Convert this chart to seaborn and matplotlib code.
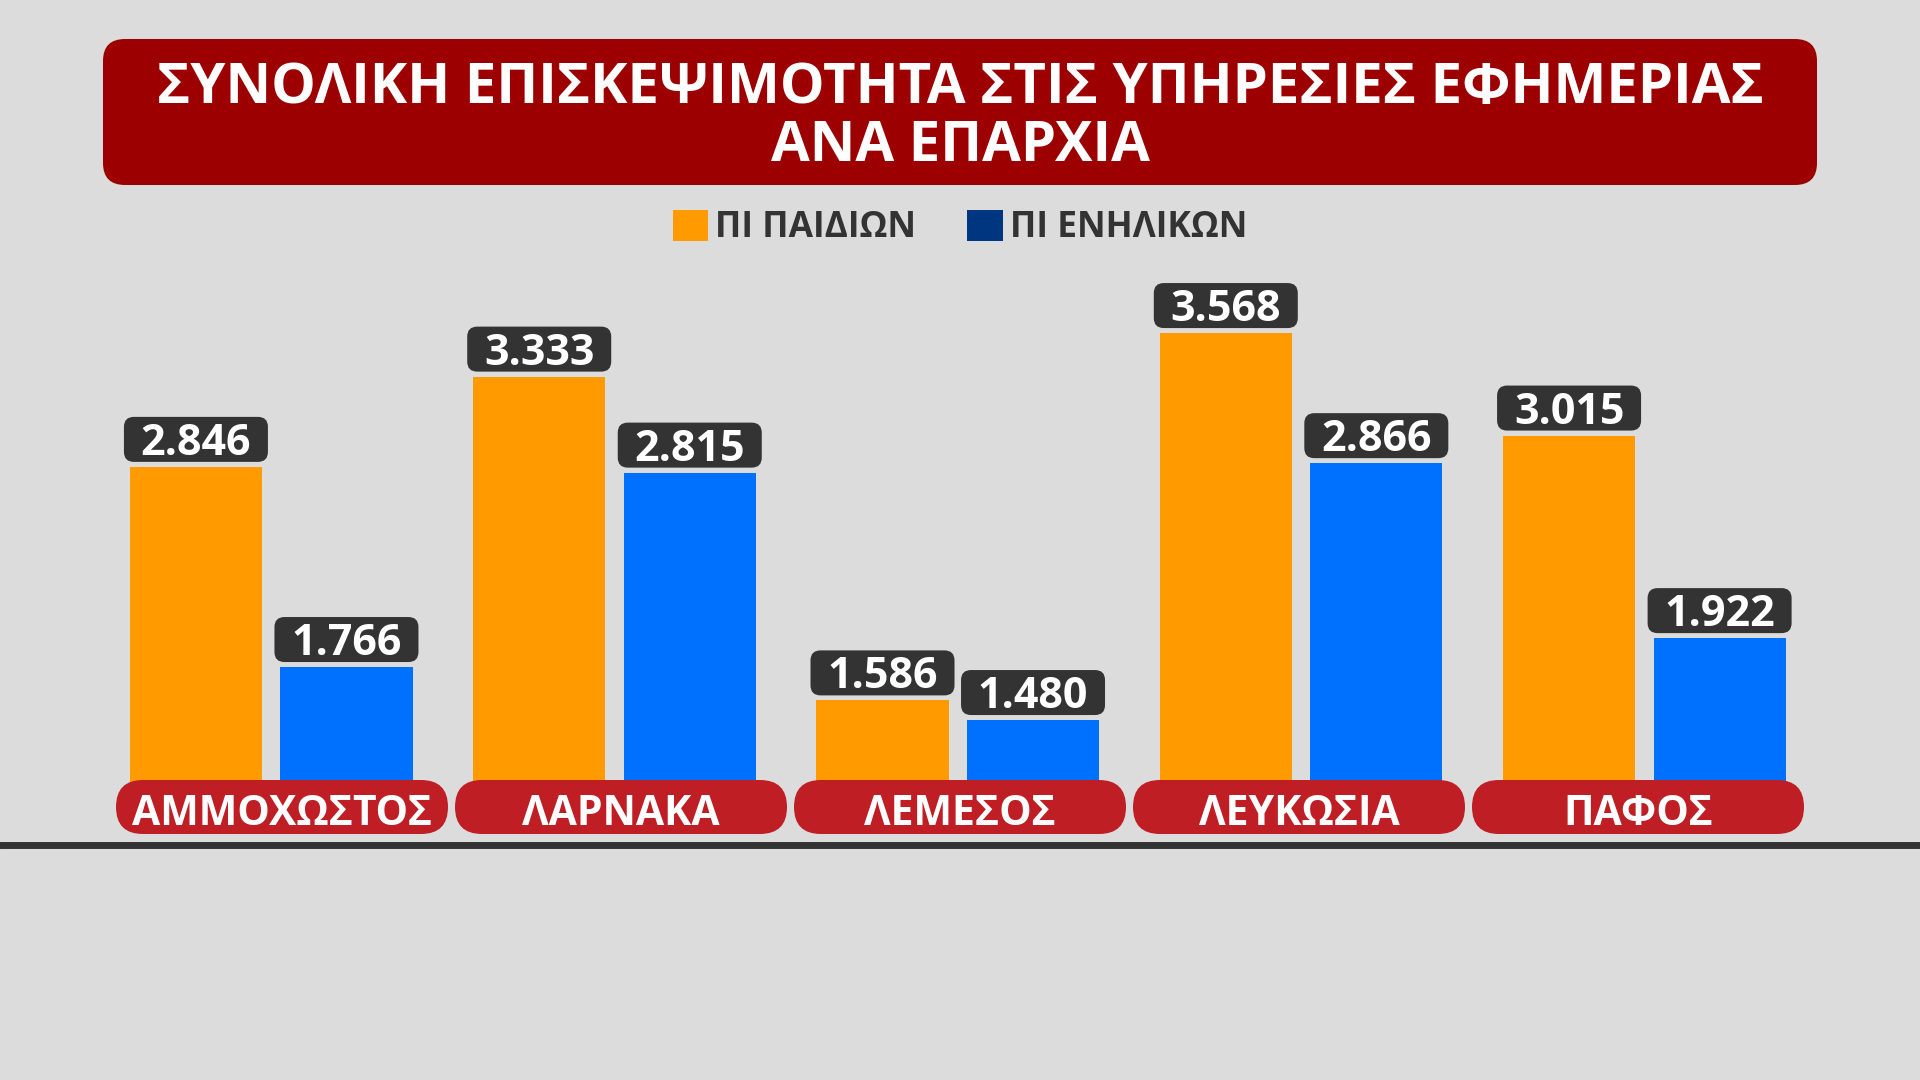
import numpy as np
import pandas as pd
import matplotlib
matplotlib.use("Agg")
import matplotlib.pyplot as plt
import seaborn as sns
from matplotlib.patches import FancyBboxPatch, Patch
from matplotlib.transforms import IdentityTransform

# Data
regions = ["ΑΜΜΟΧΩΣΤΟΣ", "ΛΑΡΝΑΚΑ", "ΛΕΜΕΣΟΣ", "ΛΕΥΚΩΣΙΑ", "ΠΑΦΟΣ"]
series = ["ΠΙ ΠΑΙΔΙΩΝ", "ΠΙ ΕΝΗΛΙΚΩΝ"]
children = [2846, 3333, 1586, 3568, 3015]
adults = [1766, 2815, 1480, 2866, 1922]
title_lines = ["ΣΥΝΟΛΙΚΗ ΕΠΙΣΚΕΨΙΜΟΤΗΤΑ ΣΤΙΣ ΥΠΗΡΕΣΙΕΣ ΕΦΗΜΕΡΙΑΣ", "ΑΝΑ ΕΠΑΡΧΙΑ"]

BG = "#DCDCDC"
ORANGE = "#FF9B00"
BLUE = "#0070FF"
NAVY = "#003580"
DARK = "#333333"
TITLE_RED = "#9C0000"
PILL_RED = "#BE1E24"

df = pd.DataFrame({
    "region": regions * 2,
    "service": [series[0]] * len(regions) + [series[1]] * len(regions),
    "visits": children + adults,
})

sns.set_theme(style="white")
plt.rcParams["font.family"] = ["Open Sans", "DejaVu Sans"]

W, H = 1920, 1080
fig = plt.figure(figsize=(W / 100, H / 100), dpi=100, facecolor=BG)

# axes: value 1000 sits at y=809px from top, value 4000 at 253px
ax = fig.add_axes([0, (H - 809) / H, 1, (809 - 253) / H])
ax.set_facecolor(BG)
sns.barplot(data=df, x="region", y="visits", hue="service", order=regions,
            hue_order=series, palette=[ORANGE, BLUE], width=0.877, gap=0.122,
            saturation=1, legend=False, edgecolor="none", linewidth=0, ax=ax)
ax.set_ylim(1000, 4000)
ax.set_xlim(-0.790, 4.803)
ax.axis("off")

fig.canvas.draw()
to_px = ax.transData.transform
ident = IdentityTransform()

# value boxes
for cont in ax.containers:
    for bar in cont:
        v = int(round(bar.get_height()))
        cx, top = to_px((bar.get_x() + bar.get_width() / 2, v))
        bw, bh = 144, 45
        y0 = top + 5
        fig.add_artist(FancyBboxPatch((cx - bw / 2, y0), bw, bh,
                                      boxstyle="round,pad=0,rounding_size=10",
                                      fc=DARK, ec="none", transform=ident, zorder=5))
        fig.text(cx, y0 + 7, f"{v:,}".replace(",", "."), transform=ident,
                 ha="center", va="baseline", color="white", fontsize=31,
                 fontweight="bold", zorder=6)

# category pills (slightly tighter grid than the bars, centred on the page)
ax_bottom = to_px((0, 1000))[1]
PILL_STEP = 339
for i, name in enumerate(regions):
    cx = W / 2 + (i - (len(regions) - 1) / 2) * PILL_STEP
    pw, ph = 332, 54
    yc = ax_bottom + 2
    fig.add_artist(FancyBboxPatch((cx - pw / 2, yc - ph / 2), pw, ph,
                                  boxstyle="round,pad=0,rounding_size=27",
                                  fc=PILL_RED, ec="none", transform=ident, zorder=5))
    fig.text(cx, yc - ph / 2 + 9, name, transform=ident, ha="center",
             va="baseline", color="white", fontsize=29.5, fontweight="bold", zorder=6)

# baseline
fig.add_artist(plt.Line2D([0, 1], [1 - 845 / H, 1 - 845 / H], color=DARK,
                          lw=5, transform=fig.transFigure))

# title box
fig.add_artist(FancyBboxPatch((103, H - 185), 1817 - 103, 185 - 39,
                              boxstyle="round,pad=0,rounding_size=22",
                              fc=TITLE_RED, ec="none", transform=ident, zorder=5))
fig.text(960, H - 103, title_lines[0], transform=ident, ha="center", va="baseline",
         color="white", fontsize=40.5, fontweight="bold", zorder=6)
fig.text(960, H - 161, title_lines[1], transform=ident, ha="center", va="baseline",
         color="white", fontsize=40.5, fontweight="bold", zorder=6)

# legend
handles = [Patch(fc=ORANGE, ec="none"), Patch(fc=NAVY, ec="none")]
leg = fig.legend(handles, series, loc="center", bbox_to_anchor=(0.5, 1 - 228 / H),
                 ncol=2, frameon=False, handlelength=1.0, handleheight=1.0,
                 handletextpad=0.2, columnspacing=1.45,
                 prop={"size": 25.5, "weight": "bold"})
for t in leg.get_texts():
    t.set_color(DARK)

fig.savefig("out.png", dpi=100, facecolor=BG)
